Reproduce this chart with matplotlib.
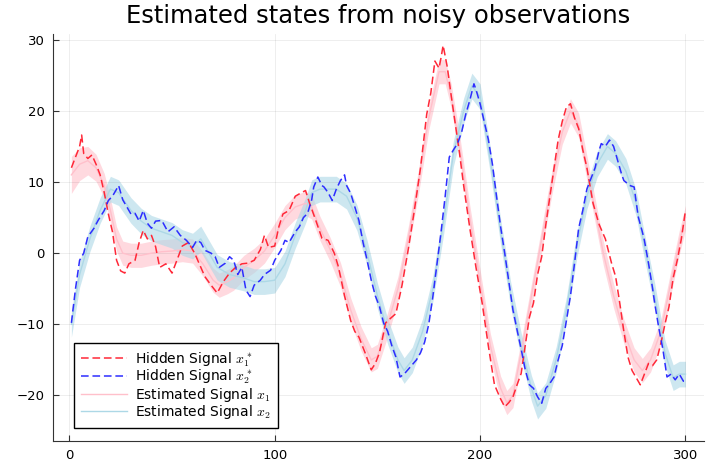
import matplotlib.pyplot as plt
import numpy as np

plt.rcParams['mathtext.fontset'] = 'cm'

# hidden signal x1* (red dashed)
hid1_t = [1, 3, 5, 6, 7, 9, 11, 13, 15, 17, 19, 21, 23, 25, 27, 29, 32, 34, 36, 38, 40, 42, 44, 47, 50,
          53, 55, 58, 61, 64, 66, 69, 72, 75, 78, 81, 84, 87, 90, 93, 95, 97, 100, 102, 104, 107, 110,
          113, 115, 117, 120, 123, 126, 129, 131, 134, 137, 139, 141, 144, 147, 149, 151, 154, 157, 159,
          162, 165, 168, 171, 174, 176, 178, 180, 181, 182, 184, 186, 188, 190, 192, 195, 198, 201, 204,
          207, 210, 212, 214, 216, 218, 220, 222, 224, 226, 228, 230, 232, 234, 236, 238, 240, 242, 244,
          246, 248, 250, 252, 255, 258, 261, 264, 266, 268, 270, 272, 274, 276, 278, 280, 282, 284, 286,
          288, 290, 292, 294, 296, 298, 300]
hid1_v = [12, 13.5, 15, 16.6, 14, 13.3, 13.8, 12.5, 11, 8.5, 5.5, 3, -1, -2.5, -2.8, -1.5, -1, 1.5, 3.2,
          2, 2.5, 0.9, -2, -1.5, -2.8, -0.5, 1, 1.5, 0, -2, -3.3, -4.5, -5.6, -4, -2.8, -2, -1.5, -1.4,
          -1, 0.5, 2.5, 0.8, 1, 3.7, 5.5, 6, 8, 8.5, 8.8, 7, 4.6, 2.1, 1.8, 0, -1.9, -6, -9.5, -11,
          -11.8, -14, -16.4, -15.5, -14, -9.8, -9, -8.5, -4.5, 0.5, 6, 12, 19.5, 22.5, 27, 26, 27.5,
          29.2, 26.2, 22, 18, 14, 9.5, 3.5, -2, -7, -13, -18.5, -20.5, -21.6, -21, -20.2, -18.5, -16.9,
          -13, -9, -7, -3, -0.5, 4, 8, 12, 15.9, 18.5, 20.5, 21, 19, 17.5, 14.5, 12, 7, 4, 2, -1.4,
          -3.3, -7, -11, -14.6, -16.5, -17.5, -18.5, -17, -15.5, -15.8, -15, -12.7, -10, -7.5, -3.5,
          -1, 2, 6]

# hidden signal x2* (blue dashed)
hid2_t = [1, 3, 5, 7, 9, 12, 14, 17, 19, 21, 23, 24, 26, 28, 30, 32, 34, 36, 38, 40, 42, 45, 48, 51,
          54, 57, 60, 62, 64, 66, 69, 71, 73, 76, 78, 80, 82, 84, 86, 88, 90, 93, 95, 98, 100, 103, 105,
          107, 110, 112, 114, 116, 118, 119, 121, 123, 124, 126, 128, 130, 132, 134, 135, 137, 139, 141,
          143, 145, 147, 149, 151, 153, 155, 157, 159, 161, 163, 166, 169, 171, 173, 175, 177, 179, 181,
          183, 185, 187, 189, 191, 193, 195, 197, 198, 200, 202, 204, 206, 208, 210, 212, 214, 216, 218,
          220, 222, 224, 226, 228, 230, 232, 234, 236, 238, 240, 242, 244, 246, 248, 250, 252, 254, 256,
          258, 259, 261, 263, 265, 267, 269, 270, 273, 275, 277, 279, 280, 282, 284, 285, 287, 289, 291,
          293, 295, 297, 299, 300]
hid2_v = [-9.8, -5, -1, 0, 2.3, 3.5, 4.6, 6, 7.4, 8, 9, 9.5, 7.5, 6.5, 5.5, 5.6, 4.5, 6, 4.2, 3.5, 4.5,
          4.6, 3, 3.7, 2.5, 1.8, 0.8, 1.8, 1.5, 0.4, 0, -0.5, -2, -1.4, -0.5, -1, -3, -2, -5.2, -6.1,
          -4.5, -3.8, -3, -2.4, -1, 0.4, 1.8, 1.5, 3, 3.7, 5, 5.6, 7.5, 9.3, 10.7, 9.5, 9.3, 8.5, 7.4,
          9, 10.2, 11, 9.5, 8.4, 6.5, 4.6, 1.5, -1, -3.8, -6, -7.5, -9.8, -11, -13, -14.6, -17.4, -17,
          -16, -15, -14, -12.5, -10, -6.1, -1.5, 3, 8, 13.5, 14.5, 15.4, 17, 19.5, 21.5, 23.8, 23, 21,
          18.5, 16, 12.5, 8, 3.7, 0, -4, -8, -10.8, -13.5, -16.4, -18.5, -19, -20.2, -21.1, -19, -18.3,
          -17.4, -15, -13, -9.5, -6, -1.4, 3.5, 6, 9, 10.5, 12, 14.5, 15.4, 15, 15.9, 15, 13, 11, 10.2,
          9.5, 9.3, 5.1, 3, 1.8, -1.4, -5, -7, -10.5, -13.5, -17.4, -17, -17.8, -17, -18, -18]

# estimated x1 (pink) with ribbon half width
est1_t = [1, 5, 9, 13, 17, 20, 23, 26, 30, 35, 40, 45, 50, 55, 60, 65, 70, 73, 77, 80, 85, 90, 95, 100,
          105, 110, 115, 118, 122, 127, 132, 137, 142, 147, 150, 155, 160, 165, 170, 175, 180, 183, 186,
          190, 195, 200, 205, 210, 213, 216, 220, 225, 230, 235, 240, 244, 248, 252, 256, 260, 265, 270,
          275, 279, 283, 288, 293, 297, 300]
est1_v = [11, 12.5, 13, 12, 9.5, 6, 2, 0, -0.3, -0.3, 0, 0.2, 0.3, 0.5, 0.3, -1.5, -3.8, -4.5, -4, -3.5,
          -2, -1, 0.3, 2.5, 5, 6.5, 7, 6.5, 3.5, 0.5, -3, -8, -12, -15, -14.5, -10, -5, 2, 10, 19, 25.5,
          25.5, 22, 15, 5, -4, -13, -19, -21, -20, -14, -6, 2, 10, 17, 20, 18, 12, 6, 0, -6, -11, -15,
          -16.5, -15, -11, -4, 1.5, 5]
est1_s = [2.6, 2.3, 2.0, 1.9] + [1.7] * (len(est1_t) - 4)

# estimated x2 (light blue) with ribbon half width
est2_t = [1, 5, 10, 15, 20, 24, 30, 35, 40, 45, 50, 55, 60, 64, 68, 72, 78, 85, 90, 95, 100, 105, 110,
          115, 118, 122, 130, 135, 140, 145, 150, 155, 160, 163, 167, 172, 177, 182, 187, 192, 196, 200,
          205, 210, 215, 220, 225, 228, 232, 237, 242, 247, 252, 257, 262, 266, 271, 276, 280, 285, 290,
          294, 297, 300]
est2_v = [-10, -3, 2, 6, 9, 8.5, 6, 4.5, 3.5, 3, 2.5, 1.5, 1, 2, 0, -2, -3, -3.5, -4, -4, -3.8, -1.5,
          2.5, 6, 8.5, 9, 9, 8, 5, 0, -6, -11, -15, -16.5, -15, -11, -5, 4, 14, 20, 23.5, 22, 13, 3,
          -6, -13, -19, -21.5, -20, -15, -8, 1, 8, 12.5, 15, 14, 11.5, 7, 1, -6, -14, -17.5, -17, -17]
est2_s = [1.8] * len(est2_t)

fig = plt.figure(figsize=(7.11, 4.69), dpi=100)
ax = fig.add_axes([0.0745, 0.0597, 0.9155, 0.8678])

e1 = np.array(est1_v); s1 = np.array(est1_s)
e2 = np.array(est2_v); s2 = np.array(est2_s)
ax.fill_between(est1_t, e1 - s1, e1 + s1, color='pink', alpha=0.6, lw=0, zorder=1)
ax.fill_between(est2_t, e2 - s2, e2 + s2, color='lightblue', alpha=0.6, lw=0, zorder=1)

ax.plot(hid1_t, hid1_v, color='#ff2838', lw=1.1, dashes=(5, 2.5), label=r'Hidden Signal $x^*_1$', zorder=3)
ax.plot(hid2_t, hid2_v, color='#2d2dff', lw=1.1, dashes=(5, 2.5), label=r'Hidden Signal $x^*_2$', zorder=3)
ax.plot(est1_t, est1_v, color='pink', lw=1, label=r'Estimated Signal $x_1$', zorder=2)
ax.plot(est2_t, est2_v, color='lightblue', lw=1, label=r'Estimated Signal $x_2$', zorder=2)

ax.set_xlim(-7.97, 308.97)
ax.set_ylim(-26.4, 30.8)
ax.set_xticks([0, 100, 200, 300])
ax.set_yticks([-20, -10, 0, 10, 20, 30])
ax.grid(True, color='black', alpha=0.08, lw=0.6)
for side in ['top', 'right']:
    ax.spines[side].set_visible(False)
for side in ['left', 'bottom']:
    ax.spines[side].set_color('#333333')
ax.tick_params(direction='in', length=4, labelsize=9.5, pad=6, colors='#333333', labelcolor='black')

ax.set_title('Estimated states from noisy observations', fontsize=17.5, pad=8)

leg = ax.legend(loc='lower left', bbox_to_anchor=(0.032, 0.032), borderaxespad=0,
                fontsize=10, labelspacing=-0.05, handlelength=3.3, handletextpad=0.6,
                fancybox=False, framealpha=1, edgecolor='black', borderpad=0.5)
leg.get_frame().set_linewidth(1)

plt.savefig('out.png', dpi=100)
